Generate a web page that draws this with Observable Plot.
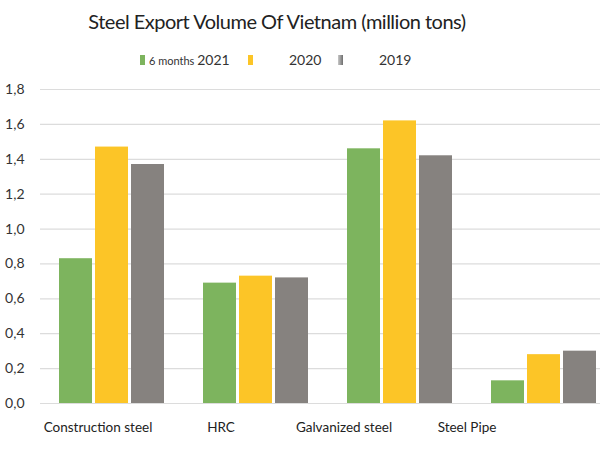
<!DOCTYPE html>
<html>
<head>
<meta charset="utf-8">
<script src="https://cdn.jsdelivr.net/npm/d3@7"></script>
<script src="https://cdn.jsdelivr.net/npm/@observablehq/plot@0.6"></script>
<style>
  body { margin: 0; background: #fff; overflow: hidden; width: 600px; height: 450px; }
  #header { height: 75px; position: relative; font-family: Lato, "Open Sans", sans-serif; color: #222; }
  #title { position: absolute; left: 0; width: 554px; top: 9px; text-align: center; font-size: 20px; letter-spacing: -0.5px; }
  #legend { position: absolute; top: 51px; left: 0; width: 600px; height: 20px; font-size: 14px; color: #333; }
  .sw { position: absolute; top: 4px; width: 5px; height: 10px; }
  .lt { position: absolute; top: 0; white-space: nowrap; }
  .small { font-size: 11px; }
  #chart { position: absolute; top: 75px; left: 0; }
  #xlabels { position: absolute; top: 403px; left: 0; }
</style>
</head>
<body>
<div id="header">
  <div id="title"></div>
  <div id="legend"></div>
</div>
<div id="chart"></div>
<div id="xlabels"></div>
<script>
const titleText = "Steel Export Volume Of Vietnam (million tons)";
const categories = ["Construction steel", "HRC", "Galvanized steel", "Steel Pipe"];
const seriesNames = ["6 months 2021", "2020", "2019"];
const values2021 = [0.83, 0.69, 1.46, 0.13];
const values2020 = [1.47, 0.73, 1.62, 0.28];
const values2019 = [1.37, 0.72, 1.42, 0.30];
const yTicks = [0, 0.2, 0.4, 0.6, 0.8, 1.0, 1.2, 1.4, 1.6, 1.8];
const colors = ["#7db45e", "#fcc527", "#86827f"];

const seriesValues = [values2021, values2020, values2019];
const data = categories.flatMap((c, i) =>
  seriesNames.map((s, j) => ({category: c, series: s, value: seriesValues[j][i]}))
);

document.getElementById("title").textContent = titleText;

// legend
const legend = document.getElementById("legend");
const legendLayout = [
  {sw: 140, tx: 149},
  {sw: 248, tx: 289},
  {sw: 338, tx: 379}
];
seriesNames.forEach((s, j) => {
  const sw = document.createElement("div");
  sw.className = "sw";
  sw.style.left = legendLayout[j].sw + "px";
  sw.style.background = j === 2 ? "linear-gradient(to right, #c8c8c8, #6e6e6e)" : colors[j];
  legend.appendChild(sw);
  const t = document.createElement("div");
  t.className = "lt";
  t.style.left = legendLayout[j].tx + "px";
  const m = s.match(/^(.*?)(\d{4})$/);
  if (m && m[1]) {
    const sm = document.createElement("span");
    sm.className = "small";
    sm.textContent = m[1];
    t.appendChild(sm);
    t.appendChild(document.createTextNode(m[2]));
  } else {
    t.textContent = s;
  }
  legend.appendChild(t);
});

const fmt = d => d.toFixed(1).replace(".", ",");

const chart = Plot.plot({
  width: 600,
  height: 375,
  marginTop: 14,
  marginBottom: 47,
  marginLeft: 40,
  marginRight: 0,
  style: {fontFamily: "Lato, sans-serif", background: "transparent"},
  fx: {domain: categories, padding: 0, range: [40, 616], label: null, axis: null},
  x: {domain: seriesNames, paddingInner: 0.08, paddingOuter: 0.49, axis: null},
  y: {domain: [0, 1.8], label: null},
  color: {domain: seriesNames, range: colors},
  marks: [
    Plot.ruleY(yTicks, {y: d => d, stroke: "#dcdcdc", strokeWidth: 1.2}),
    Plot.barY(data, {fx: "category", x: "series", y: "value", fill: "series"}),
    Plot.axisY(yTicks, {tickSize: 0, tickPadding: 16, tickFormat: fmt, fontSize: 14, fill: "#333", label: null})
  ]
});
document.getElementById("chart").appendChild(chart);

// category labels row (as drawn in the reference, evenly spaced under the groups)
const labels = Plot.plot({
  width: 600,
  height: 46,
  marginTop: 0,
  marginBottom: 0,
  marginLeft: 0,
  marginRight: 0,
  style: {fontFamily: "Lato, sans-serif", background: "transparent"},
  x: {type: "band", domain: categories, range: [28, 536], label: null},
  marks: [
    Plot.axisX({anchor: "top", tickSize: 0, tickPadding: 0, dy: 28, fontSize: 13.5, fill: "#222", label: null})
  ]
});
document.getElementById("xlabels").appendChild(labels);
</script>
</body>
</html>
